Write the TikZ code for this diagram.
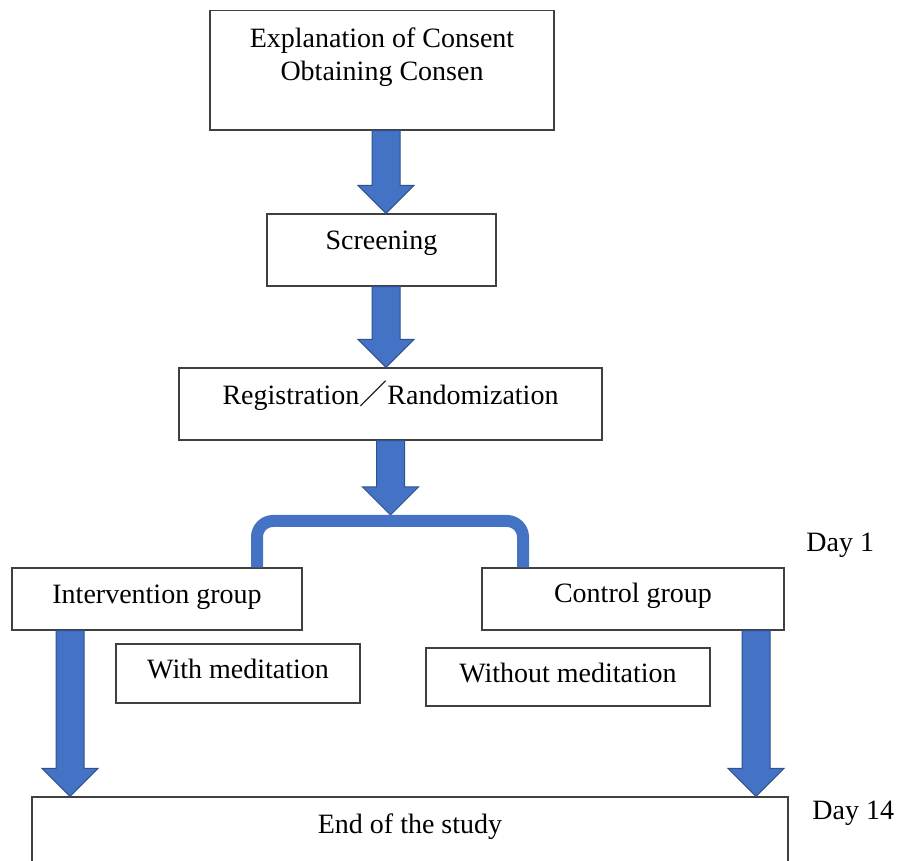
\documentclass[tikz,border=0pt]{standalone}
\usepackage{fontspec}
\setmainfont{Liberation Serif}
\newfontfamily\cjk{Noto Sans CJK JP}
\usetikzlibrary{calc}

\definecolor{arrowblue}{HTML}{4472C4}
\definecolor{arrowedge}{HTML}{2F528F}

% block arrow from one node edge down to another
\newcommand{\flowarrow}[2]{%
  \path[flow] let \p1=(#1), \p2=(#2) in
    (\x1-7pt,\y1) -- (\x1-7pt,\y2+14pt) -- (\x1-14pt,\y2+14pt) -- (\x1,\y2)
    -- (\x1+14pt,\y2+14pt) -- (\x1+7pt,\y2+14pt) -- (\x1+7pt,\y1) -- cycle;}

\begin{document}
\begin{tikzpicture}[
    x=0.5pt, y=-0.5pt,
    block/.style={rectangle,draw=black!75,line width=0.7pt,fill=white,inner sep=0pt,
                  align=center,font=\fontsize{14}{16.5}\selectfont},
    tag/.style={inner sep=0pt,anchor=base west,font=\fontsize{14}{16.5}\selectfont},
    flow/.style={fill=arrowblue,draw=arrowedge,line width=0.5pt},
    split/.style={draw=arrowblue,line width=6pt,rounded corners=8pt}]

    \useasboundingbox (0,0) rectangle (902,861);
    \clip (0,0) rectangle (902,861);

    % Enrollment steps
    \node[block,minimum width=172pt,text height=35.25pt,text depth=24.5pt] (consent) at (382,70.25)
        {Explanation of Consent\\Obtaining Consen};
    \node[block,minimum width=114.5pt,text height=18pt,text depth=18pt] (screen) at (381.5,250) {Screening};
    \node[block,minimum width=211.5pt,text height=18.5pt,text depth=17.5pt] (regist) at (390.5,404)
        {Registration{\cjk ／}Randomization};

    % Groups
    \node[block,minimum width=145pt,text height=18pt,text depth=13pt] (inter) at (157,599) {Intervention group};
    \node[block,minimum width=151pt,text height=17.5pt,text depth=13.5pt] (control) at (633,599) {Control group};
    \node[block,minimum width=122pt,text height=17.5pt,text depth=12pt] (withmed) at (238,673.5) {With meditation};
    \node[block,minimum width=142pt,text height=17.5pt,text depth=11.5pt] (withoutmed) at (568,677) {Without meditation};

    % End
    \node[block,minimum width=378pt,text height=18.5pt,text depth=27.5pt] (finish) at (410,843) {End of the study};

    % Days
    \node[tag] (day1) at (806,552) {Day 1};
    \node[tag] (day14) at (812,820) {Day 14};

    % Connect steps
    \coordinate (fork) at (390,521);
    \flowarrow{[xshift=2pt]consent.south}{screen.north}
    \flowarrow{[xshift=2.25pt]screen.south}{regist.north}
    \flowarrow{regist.south}{[yshift=3pt]fork}
    \draw[split] ([xshift=50pt]inter.north) |- (fork) -| ([xshift=-55pt]control.north);
    \flowarrow{[xshift=-43.5pt]inter.south}{finish.north}
    \flowarrow{[xshift=61.5pt]control.south}{finish.north}
\end{tikzpicture}
\end{document}
